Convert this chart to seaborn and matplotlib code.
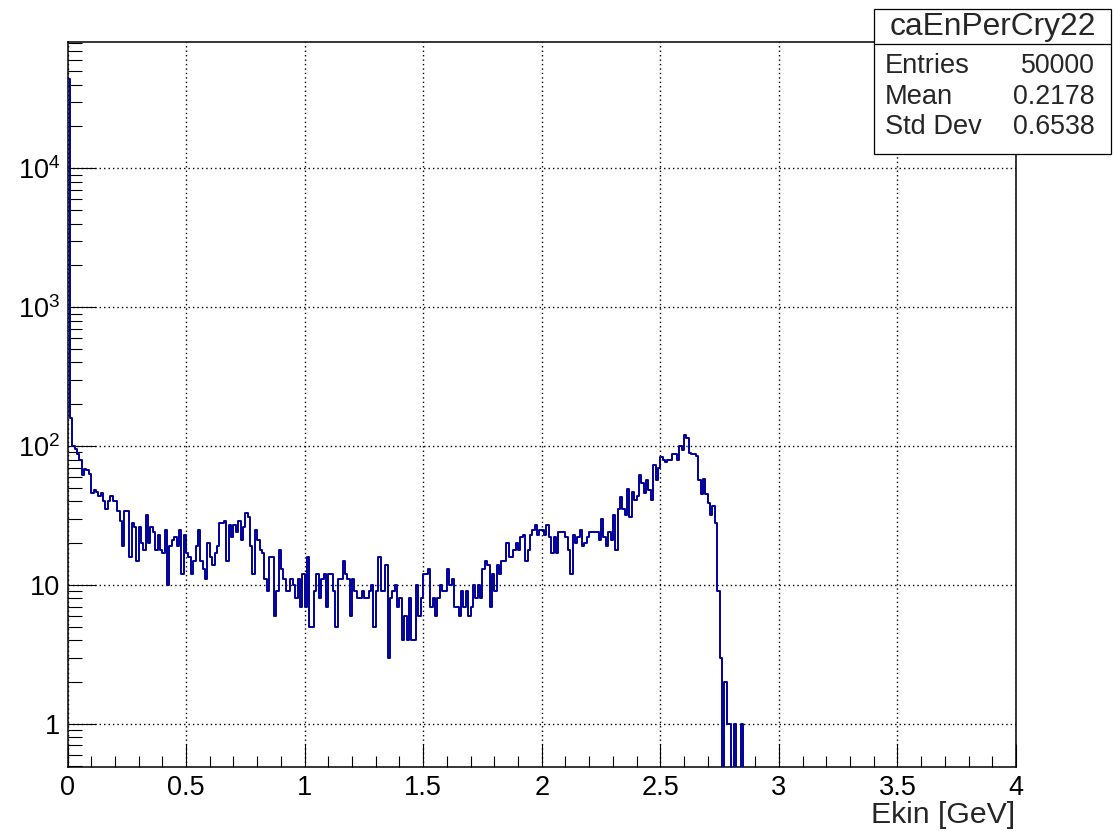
import numpy as np
import pandas as pd
import matplotlib
matplotlib.use("Agg")
import matplotlib.pyplot as plt
import seaborn as sns
from matplotlib.ticker import FixedLocator, FixedFormatter, LogLocator, NullFormatter, MultipleLocator
from matplotlib.patches import Rectangle
from matplotlib.lines import Line2D

# ---------------- data ----------------
x_min, x_max, n_bins = 0.0, 4.0, 400

# bin contents (bin width 0.01 GeV)
counts_0_to_1 = [
    44000, 160, 100, 95, 88, 80, 62, 68, 67, 63,
    46, 48, 47, 44, 46, 40, 35, 40, 44, 40,
    40, 34, 29, 19, 34, 34, 16, 28, 26, 15,
    26, 20, 18, 32, 20, 26, 24, 18, 23, 18,
    17, 25, 10, 19, 21, 22, 19, 25, 12, 23,
    17, 16, 12, 15, 19, 25, 15, 13, 11, 20,
    16, 14, 17, 19, 28, 28, 29, 15, 27, 22,
    27, 24, 29, 21, 26, 33, 31, 19, 12, 25,
    21, 18, 17, 11, 9, 16, 16, 6, 9, 18,
    13, 11, 9, 9, 11, 10, 8, 11, 7, 12,
]
counts_1_to_2 = [
    7, 16, 5, 5, 9, 12, 8, 11, 12, 7,
    12, 12, 9, 5, 11, 11, 15, 12, 11, 6,
    11, 9, 8, 8, 9, 8, 8, 9, 10, 5,
    9, 16, 9, 9, 14, 3, 8, 9, 10, 7,
    8, 4, 6, 4, 8, 4, 4, 10, 6, 8,
    12, 12, 13, 7, 8, 6, 8, 10, 9, 9,
    13, 10, 11, 7, 7, 6, 9, 7, 9, 6,
    7, 10, 8, 10, 8, 13, 15, 14, 7, 12,
    9, 14, 12, 15, 15, 20, 16, 16, 18, 20,
    18, 22, 23, 15, 18, 23, 25, 27, 23, 25,
]
counts_2_to_285 = [
    25, 23, 27, 22, 17, 22, 17, 24, 24, 24,
    22, 18, 12, 23, 20, 22, 25, 19, 20, 22,
    24, 24, 24, 24, 21, 30, 22, 19, 24, 21,
    32, 18, 35, 43, 35, 32, 49, 31, 47, 41,
    44, 62, 54, 46, 57, 48, 41, 73, 57, 69,
    83, 79, 77, 79, 79, 88, 87, 79, 100, 94,
    120, 114, 89, 88, 88, 85, 57, 45, 58, 45,
    39, 32, 37, 28, 9, 3, 0, 2, 1, 1,
    0, 1, 0, 0, 1,
]
counts = counts_0_to_1 + counts_1_to_2 + counts_2_to_285
counts = counts + [0] * (n_bins - len(counts))

x_tick_values = [0, 0.5, 1, 1.5, 2, 2.5, 3, 3.5, 4]
x_tick_labels = ["0", "0.5", "1", "1.5", "2", "2.5", "3", "3.5", "4"]
y_tick_values = [1, 10, 100, 1000, 10000]
y_tick_labels = ["1", "10", r"$\mathregular{10^{2}}$", r"$\mathregular{10^{3}}$", r"$\mathregular{10^{4}}$"]
x_label = "Ekin [GeV]"
stats_title = "caEnPerCry22"
stats_names = ["Entries", "Mean", "Std Dev"]
stats_values = ["50000", "0.2178", "0.6538"]

edges = np.linspace(x_min, x_max, n_bins + 1)
centers = 0.5 * (edges[:-1] + edges[1:])
df = pd.DataFrame({"Ekin": centers, "count": counts})

# ---------------- style ----------------
sns.set_style("ticks")
plt.rcParams["font.family"] = ["Liberation Sans", "DejaVu Sans"]
plt.rcParams["mathtext.fontset"] = "custom"
plt.rcParams["mathtext.rm"] = "Liberation Sans"
plt.rcParams["mathtext.it"] = "Liberation Sans:italic"

W, H = 1113, 831
fig = plt.figure(figsize=(W / 100, H / 100), dpi=100)
fig.patch.set_facecolor("white")
ax = fig.add_axes([67.5 / W, 1 - 767 / H, (1016 - 67.5) / W, (767 - 42) / H])
ax.set_facecolor("white")

sns.histplot(data=df, x="Ekin", weights="count", bins=n_bins, binrange=(x_min, x_max),
             element="step", fill=False, color="#000099", linewidth=1.4, ax=ax, zorder=3)

ax.set_yscale("log")
ax.set_xlim(x_min, x_max)
ax.set_ylim(0.49, 8.1e4)
ax.set_xlabel("")
ax.set_ylabel("")

ax.xaxis.set_major_locator(FixedLocator(x_tick_values))
ax.xaxis.set_major_formatter(FixedFormatter(x_tick_labels))
ax.xaxis.set_minor_locator(MultipleLocator(0.1))
ax.yaxis.set_major_locator(FixedLocator(y_tick_values))
ax.yaxis.set_major_formatter(FixedFormatter(y_tick_labels))
ax.yaxis.set_minor_locator(LogLocator(base=10, subs=np.arange(2, 10)))
ax.yaxis.set_minor_formatter(NullFormatter())

ax.tick_params(axis="both", which="both", direction="in", top=False, right=False,
               width=0.8, color="black", labelsize=19.5, labelcolor="black")
ax.tick_params(axis="x", which="major", length=16.5, pad=6)
ax.tick_params(axis="x", which="minor", length=8)
ax.tick_params(axis="y", which="major", length=20, pad=5)
ax.tick_params(axis="y", which="minor", length=10)

for s in ax.spines.values():
    s.set_color("black")
    s.set_linewidth(1.1)
    s.set_visible(True)

ax.grid(True, which="major", axis="both", color="black", linewidth=1.0,
        linestyle=(0, (1, 2.2)))
ax.grid(False, which="minor")
ax.set_axisbelow(True)

fig.text(1015 / W, 1 - 823 / H, x_label, ha="right", va="baseline", fontsize=21.8)

# stats box
bx0, bx1, by0, by1, bsep = 874, 1111, 9, 154, 44
fig.add_artist(Rectangle((bx0 / W, 1 - by1 / H), (bx1 - bx0) / W, (by1 - by0) / H,
                         transform=fig.transFigure, facecolor="white", edgecolor="black",
                         linewidth=0.9, zorder=10))
fig.add_artist(Line2D([bx0 / W, bx1 / W], [1 - bsep / H, 1 - bsep / H],
                      transform=fig.transFigure, color="black", linewidth=0.9, zorder=11))
fig.text((bx0 + bx1) / 2 / W, 1 - 27 / H, stats_title, ha="center", va="center",
         fontsize=22.9, zorder=12)
row_y = [66, 97, 127]
for name, val, yy in zip(stats_names, stats_values, row_y):
    fig.text(885 / W, 1 - yy / H, name, ha="left", va="center", fontsize=19.6, zorder=12)
    fig.text(1095 / W, 1 - yy / H, val, ha="right", va="center", fontsize=19.3, zorder=12)

fig.savefig("out.png", dpi=100, facecolor="white")
